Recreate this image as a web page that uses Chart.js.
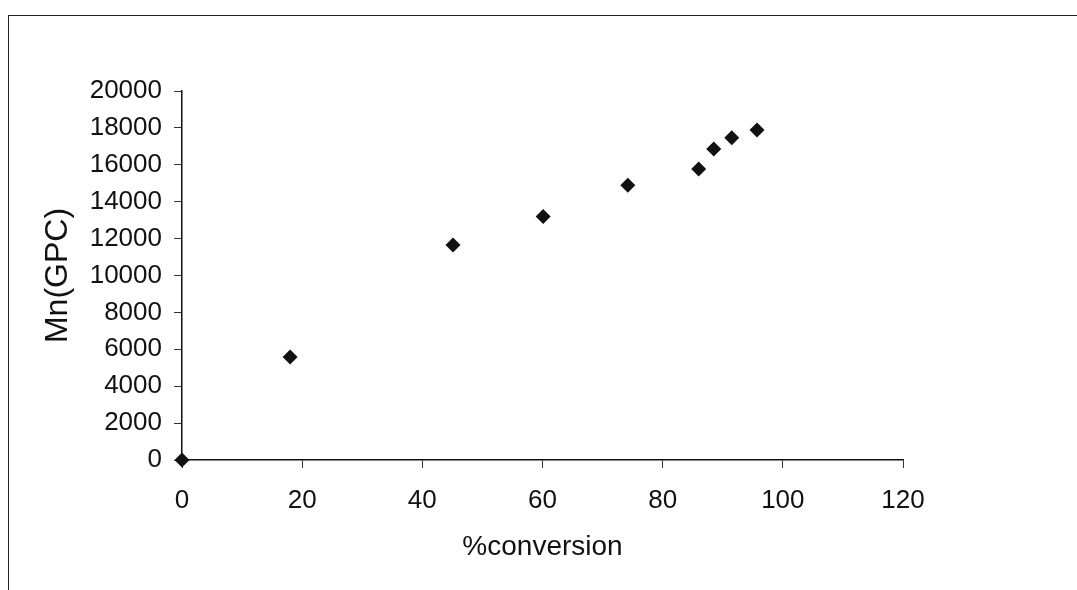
<!DOCTYPE html>
<html>
<head>
<meta charset="utf-8">
<script src="https://cdn.jsdelivr.net/npm/chart.js@4.4.1/dist/chart.umd.min.js"></script>
<style>
    html, body { margin: 0; padding: 0; background: #fff; overflow: hidden; }
    #wrap { position: relative; width: 1077px; height: 590px; }
    #frame { position: absolute; left: 8px; top: 15px; width: 1200px; height: 700px; border: 1.5px solid #222; }
    #grafico { position: absolute; left: 0; top: 0; }
</style>
</head>
<body>
<div id="wrap">
    <div id="frame"></div>
    <canvas id="grafico" width="1077" height="590"></canvas>
</div>
<script>
const conversao = [0, 18, 45.1, 60.1, 74.2, 86.0, 88.5, 91.5, 95.7];
const mnGPC = [0, 5580, 11650, 13200, 14890, 15770, 16860, 17470, 17890];
const ticksX = [0, 20, 40, 60, 80, 100, 120];
const ticksY = [0, 2000, 4000, 6000, 8000, 10000, 12000, 14000, 16000, 18000, 20000];

const fonte = "'Liberation Sans', Arial, sans-serif";

const pontos = conversao.map((x, i) => ({ x: x, y: mnGPC[i] }));

const ctx = document.getElementById('grafico').getContext('2d');
new Chart(ctx, {
    type: 'scatter',
    data: {
        datasets: [{
            data: pontos,
            pointStyle: 'rectRot',
            pointRadius: 7.5,
            pointHoverRadius: 7.5,
            backgroundColor: '#111',
            borderColor: '#111',
            borderWidth: 0,
            clip: false
        }]
    },
    options: {
        responsive: false,
        animation: false,
        events: [],
        layout: { padding: { left: 0, top: 91, right: 174, bottom: 0 } },
        plugins: {
            legend: { display: false },
            tooltip: { enabled: false }
        },
        scales: {
            x: {
                type: 'linear',
                min: 0,
                max: 120,
                afterBuildTicks: (scale) => { scale.ticks = ticksX.map(v => ({ value: v })); },
                afterFit: (scale) => { scale.height = 130; },
                ticks: {
                    color: '#111', font: { family: fonte, size: 26 }, padding: 17, maxRotation: 0,
                    callback: (v) => String(v)
                },
                grid: { drawOnChartArea: false, drawTicks: true, tickLength: 8, color: '#333', lineWidth: 1 },
                border: { display: true, color: '#111', width: 1.5 },
                title: {
                    display: true,
                    text: '%conversion',
                    color: '#111',
                    font: { family: fonte, size: 28 },
                    padding: { top: 0, bottom: 26 }
                }
            },
            y: {
                type: 'linear',
                min: 0,
                max: 20000,
                afterBuildTicks: (scale) => { scale.ticks = ticksY.map(v => ({ value: v })); },
                afterFit: (scale) => { scale.width = 182; },
                ticks: {
                    color: '#111', font: { family: fonte, size: 26 }, padding: 12,
                    callback: (v) => String(v)
                },
                grid: { drawOnChartArea: false, drawTicks: true, tickLength: 8, color: '#333', lineWidth: 1 },
                border: { display: true, color: '#111', width: 1.5 },
                title: {
                    display: true,
                    text: 'Mn(GPC)',
                    color: '#111',
                    font: { family: fonte, size: 32 },
                    padding: { top: 39, bottom: 0 }
                }
            }
        }
    }
});
</script>
</body>
</html>
